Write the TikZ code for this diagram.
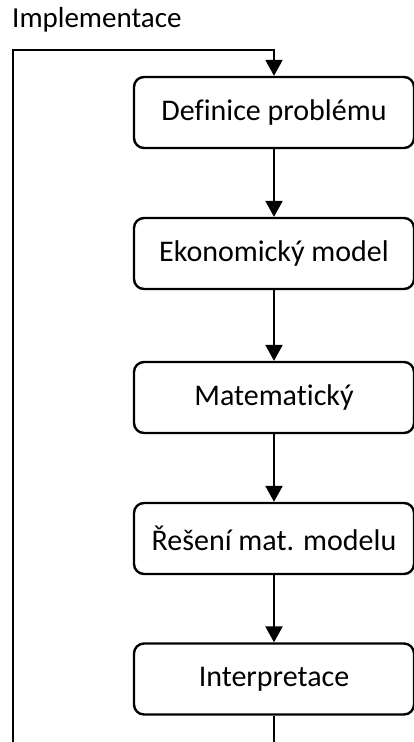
\documentclass[tikz,border=0pt]{standalone}
\usepackage{fontspec}
\setmainfont{Carlito}[Ligatures=NoCommon]
\usetikzlibrary{arrows.meta,positioning}
\tikzset{
    % Boxes
    stage/.style={draw,rounded corners=10pt,line width=2.4pt,minimum width=280pt,minimum height=71pt,inner sep=0pt,font=\fontsize{30}{36}\selectfont},
    label text/.style={anchor=base west,inner sep=0pt,font=\fontsize{29}{35}\selectfont},
    %
    % Arrows
    arrow tip/.tip={Triangle[width=17pt,length=16pt]},
    arr/.style={-{arrow tip},line width=2.4pt,line join=miter}
}

\begin{document}
\begin{tikzpicture}[x=1pt,y=-1pt]
        \useasboundingbox (0,0) rectangle (414,742);
        \clip (0,0) rectangle (414,742);
        \node[label text] (impl) at (12,27) {Implementace};

        \node[stage] (def) at (274,112.5) {Definice problému};
        \node[stage] (eko) at (274,253.5) {Ekonomický model};
        \node[stage] (mat) at (274,397.5) {Matematický};
        \node[stage] (res) at (274,538.5) {Řešení mat. modelu};
        \node[stage] (int) at (274,679) {Interpretace};

        \draw[arr] (def) -- (eko);
        \draw[arr] (eko) -- (mat);
        \draw[arr] (mat) -- (res);
        \draw[arr] (res) -- (int);

        % feedback loop
        \coordinate (bl) at (13,760);
        \coordinate (tl) at (13,50);
        \draw[arr] (int.south) -- (int.south |- bl) -- (bl) -- (tl) -| (def.north);
\end{tikzpicture}
\end{document}
